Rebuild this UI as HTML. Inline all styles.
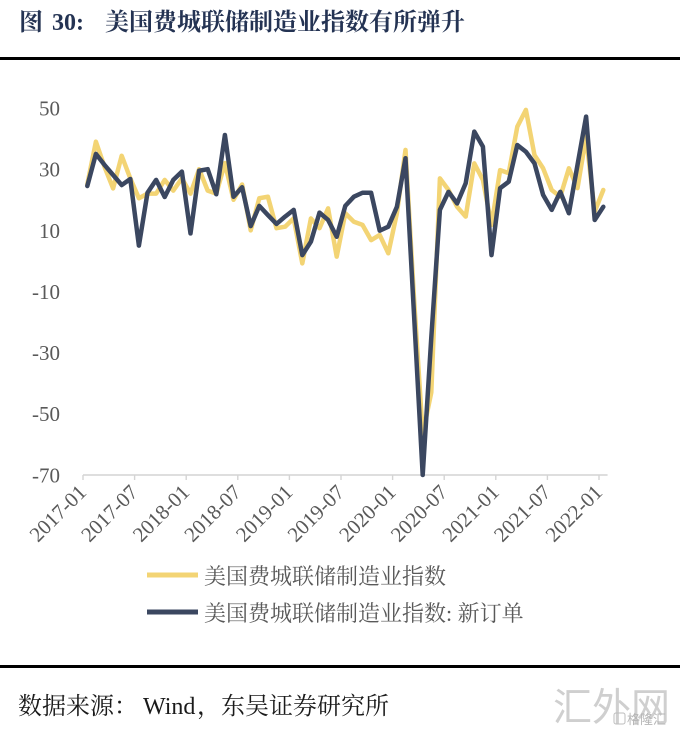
<!DOCTYPE html>
<html>
<head>
<meta charset="utf-8">
<style>
  html,body{margin:0;padding:0;background:#fff;}
  svg{display:block;}
</style>
</head>
<body>
<svg width="680" height="736" viewBox="0 0 680 736" xmlns="http://www.w3.org/2000/svg">
  <rect x="0" y="0" width="680" height="736" fill="#ffffff"/>

  <!-- Title -->
  <text y="30" fill="#243353" font-weight="bold" font-size="24" font-family="'Liberation Serif','Noto Serif CJK SC',serif">
    <tspan x="19">图</tspan><tspan x="52">30:</tspan><tspan x="105">美国费城联储制造业指数有所弹升</tspan>
  </text>
  <rect x="0" y="57" width="680" height="3" fill="#000"/>

  <!-- Y axis labels -->
  <g font-family="'Liberation Serif',serif" font-size="21" fill="#595959" text-anchor="end">
    <text x="60" y="115.5">50</text>
    <text x="60" y="176.6">30</text>
    <text x="60" y="237.8">10</text>
    <text x="60" y="298.9">-10</text>
    <text x="60" y="360.1">-30</text>
    <text x="60" y="421.2">-50</text>
    <text x="60" y="482.4">-70</text>
  </g>

  <!-- X axis -->
  <line x1="83" y1="475" x2="607.6" y2="475" stroke="#d4d4d4" stroke-width="1.6"/>
  <g stroke="#d4d4d4" stroke-width="1.4">
    <line x1="83" y1="475" x2="83" y2="480"/>
    <line x1="134.6" y1="475" x2="134.6" y2="480"/>
    <line x1="186.2" y1="475" x2="186.2" y2="480"/>
    <line x1="237.8" y1="475" x2="237.8" y2="480"/>
    <line x1="289.4" y1="475" x2="289.4" y2="480"/>
    <line x1="341" y1="475" x2="341" y2="480"/>
    <line x1="392.6" y1="475" x2="392.6" y2="480"/>
    <line x1="444.2" y1="475" x2="444.2" y2="480"/>
    <line x1="495.8" y1="475" x2="495.8" y2="480"/>
    <line x1="547.4" y1="475" x2="547.4" y2="480"/>
    <line x1="599" y1="475" x2="599" y2="480"/>
  </g>
  <g font-family="'Liberation Serif',serif" font-size="21" fill="#595959" text-anchor="end">
    <text transform="translate(87.5,493.5) rotate(-45)">2017-01</text>
    <text transform="translate(139.1,493.5) rotate(-45)">2017-07</text>
    <text transform="translate(190.7,493.5) rotate(-45)">2018-01</text>
    <text transform="translate(242.3,493.5) rotate(-45)">2018-07</text>
    <text transform="translate(293.9,493.5) rotate(-45)">2019-01</text>
    <text transform="translate(345.5,493.5) rotate(-45)">2019-07</text>
    <text transform="translate(397.1,493.5) rotate(-45)">2020-01</text>
    <text transform="translate(448.7,493.5) rotate(-45)">2020-07</text>
    <text transform="translate(500.3,493.5) rotate(-45)">2021-01</text>
    <text transform="translate(551.9,493.5) rotate(-45)">2021-07</text>
    <text transform="translate(603.5,493.5) rotate(-45)">2022-01</text>
  </g>

  <!-- Series -->
  <g transform="matrix(8.6 0 0 -3.058 87.3 260.94)">
    <polyline fill="none" stroke="#f3d474" stroke-width="4.5" stroke-linejoin="round" stroke-linecap="round" vector-effect="non-scaling-stroke"
      points="0,25 1,39 2,30.8 3,23.7 4,34.4 5,27 6,20.5 7,22 8,22 9,26.5 10,23 11,27 12,22 13,30 14,23 15,22 16,32 17,20 18,25 19,10 20,20.5 21,21 22,10.7 23,11.2 24,13.9 25,-0.8 26,13.9 27,10.7 28,17.2 29,1.4 30,15.6 31,12.8 32,11.8 33,6.8 34,8.5 35,2.5 36,15.6 37,36.3 38,-12.7 39,-56.6 40,-43 41,27 42,23.2 43,17.7 44,14.5 45,31.9 46,26.5 47,11.8 48,29.7 49,28.7 50,43.9 51,49.4 52,34.6 53,30.3 54,23.2 55,21 56,30.3 57,23.8 58,40.6 59,16.1 60,23.2"/>
    <polyline fill="none" stroke="#3b4760" stroke-width="4.5" stroke-linejoin="round" stroke-linecap="round" vector-effect="non-scaling-stroke"
      points="0,24.5 1,35 2,31.4 3,28.1 4,24.8 5,26.8 6,5 7,22.3 8,26.5 9,20.9 10,26.5 11,29.2 12,9 13,29.5 14,30 15,21.8 16,41.2 17,21 18,24.1 19,11.4 20,18 21,15 22,12.1 23,14.5 24,16.7 25,1.9 26,6.3 27,15.8 28,13.4 29,7.9 30,18 31,21 32,22.3 33,22.3 34,9.9 35,11.2 36,17.7 37,33.6 38,-18 39,-70 40,-25 41,16.7 42,22.6 43,18.8 44,25.4 45,42.3 46,37.4 47,1.9 48,23.8 49,25.9 50,37.9 51,35.7 52,31.9 53,21.6 54,16.7 55,22.6 56,15.6 57,31.4 58,47.2 59,13.4 60,17.7"/>
  </g>

  <!-- Legend -->
  <line x1="147" y1="575" x2="198" y2="575" stroke="#f3d474" stroke-width="5"/>
  <line x1="147" y1="612" x2="198" y2="612" stroke="#3b4760" stroke-width="5"/>
  <g font-family="'Liberation Serif','Noto Serif CJK SC',serif" font-size="22" fill="#595959">
    <text x="204" y="584">美国费城联储制造业指数</text>
    <text x="204" y="621">美国费城联储制造业指数: 新订单</text>
  </g>

  <rect x="0" y="665" width="680" height="3" fill="#000"/>

  <!-- Source -->
  <text y="714" font-family="'Liberation Serif','Noto Serif CJK SC',serif" font-size="24" fill="#1a1a1a">
    <tspan x="18">数据来源：</tspan><tspan x="143">Wind</tspan><tspan x="197">，东吴证券研究所</tspan>
  </text>

  <!-- Watermark -->
  <text x="553" y="721" font-family="'Noto Sans CJK SC',sans-serif" font-size="39" fill="#cfcfcf">汇外网</text>
  <rect x="614" y="713" width="11" height="11" rx="2" fill="none" stroke="#bdbdbd" stroke-width="1"/>
  <text x="627" y="724" font-family="'Noto Sans CJK SC',sans-serif" font-size="13" fill="#b5b5b5">格隆汇</text>
</svg>
</body>
</html>
